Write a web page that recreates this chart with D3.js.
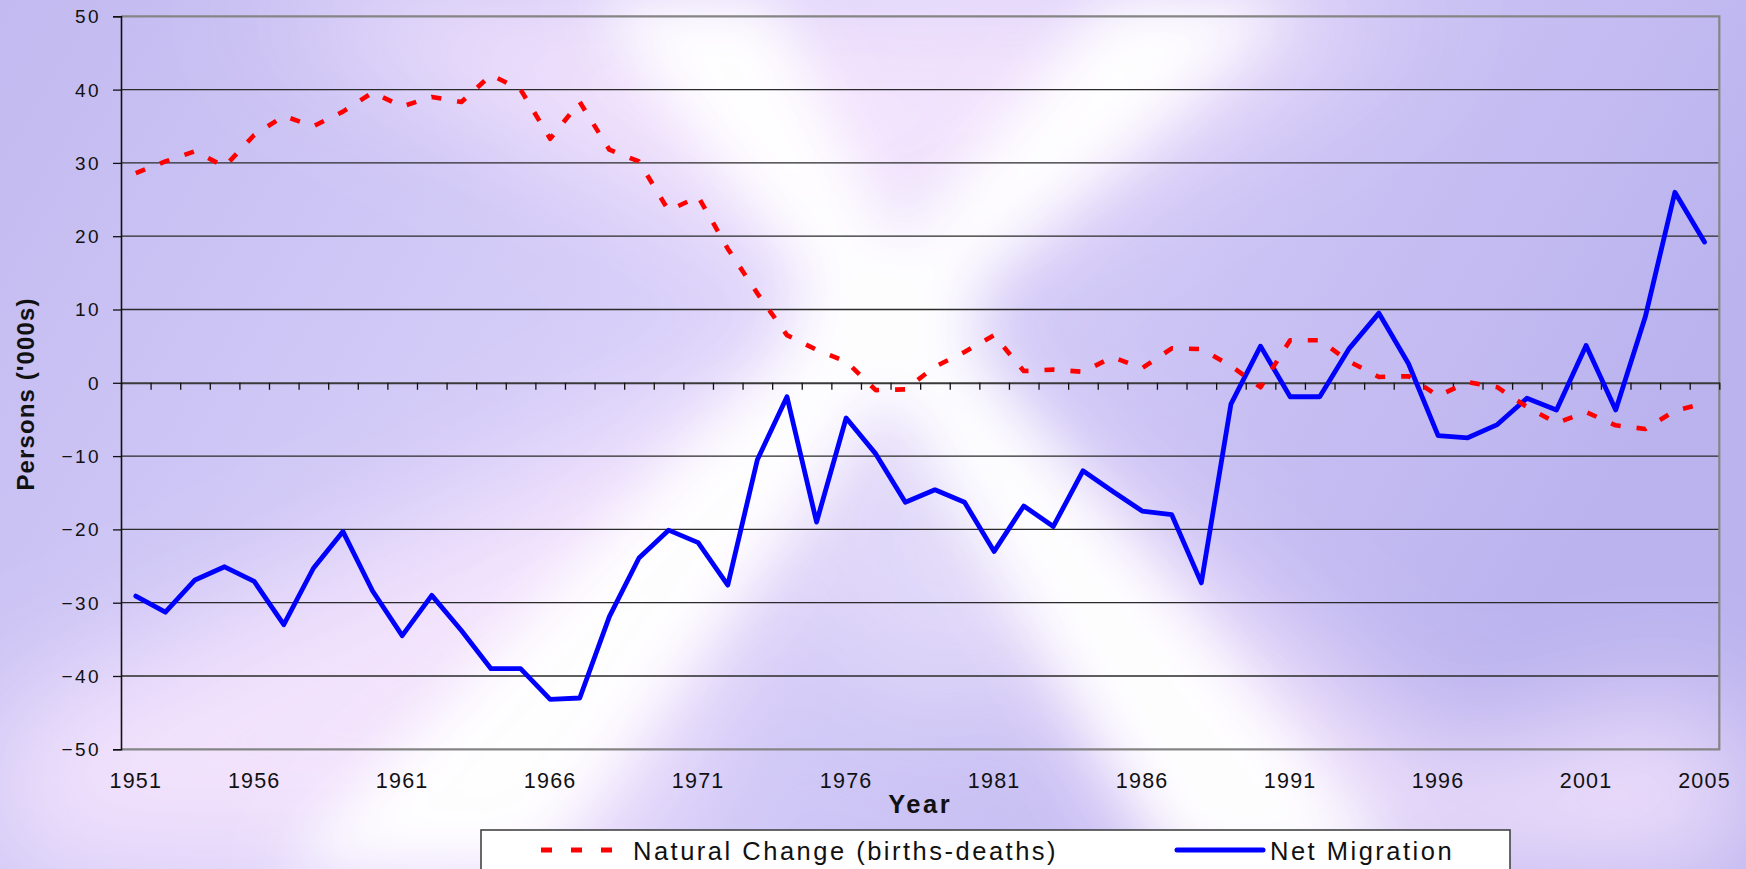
<!DOCTYPE html>
<html><head><meta charset="utf-8">
<script src="https://cdn.jsdelivr.net/npm/d3@7"></script>
<style>html,body{margin:0;padding:0;overflow:hidden;background:#c6bef2}svg{display:block}</style>
</head><body>
<svg id="chart" width="1746" height="869"></svg>
<script>
// ---------------- DATA ----------------
const categories = ["1951","1953","1954","1955","1956","1957","1958","1959","1960","1961",
  "1962","1963","1964","1965","1966","1967","1968","1969","1970","1971",
  "1972","1973","1974","1975","1976","1977","1978","1979","1980","1981",
  "1982","1983","1984","1985","1986","1987","1988","1989","1990","1991",
  "1992","1993","1994","1995","1996","1997","1998","1999","2000","2001",
  "2002","2003","2004","2005"];
const shownLabels = ["1951","1956","1961","1966","1971","1976","1981","1986","1991","1996","2001","2005"];
const naturalChange = [28.6,30.2,31.6,29.5,33.8,36.4,35.0,37.0,39.6,37.7,
  39.0,38.3,42.0,40.0,33.3,38.3,31.8,30.2,23.5,25.4,
  18.3,12.2,6.5,4.5,2.9,-1.0,-0.9,2.2,4.2,6.5,
  1.6,1.8,1.5,3.5,2.0,4.7,4.6,2.3,-0.6,5.8,
  5.8,2.9,0.8,0.9,-1.8,0.1,-0.6,-3.3,-5.5,-4.0,
  -5.8,-6.3,-3.8,-2.8];
const netMigration = [-29.1,-31.3,-26.9,-25.1,-27.1,-33.0,-25.3,-20.3,-28.4,-34.5,
  -29.0,-33.8,-39.0,-39.0,-43.2,-43.0,-31.9,-23.9,-20.1,-21.8,
  -27.6,-10.5,-1.9,-19.0,-4.8,-9.7,-16.3,-14.6,-16.3,-23.0,
  -16.8,-19.6,-12.0,-14.8,-17.5,-18.0,-27.3,-2.9,5.0,-1.9,
  -1.9,4.7,9.5,2.6,-7.2,-7.5,-5.7,-2.1,-3.7,5.1,
  -3.7,9.0,26.0,19.2];
const yTicks = [50,40,30,20,10,0,-10,-20,-30,-40,-50];
const seriesNames = ["Natural Change (births-deaths)","Net Migration"];
const axisTitles = {x:"Year", y:"Persons ('000s)"};

// ---------------- LAYOUT ----------------
const W = 1746, H = 869;
const L = 121, R = 1719.3, T = 16.3, B = 749.3;
const FONT = "'Liberation Sans', Arial, Helvetica, sans-serif";
const svg = d3.select("#chart");
const defs = svg.append("defs");

// ---------------- BACKGROUND ----------------
const bg = defs.append("linearGradient").attr("id","bgGrad")
  .attr("x1",0).attr("y1",0).attr("x2",1).attr("y2",0.3);
bg.append("stop").attr("offset",0).attr("stop-color","#c2baf0");
bg.append("stop").attr("offset",0.3).attr("stop-color","#d0c8f6");
bg.append("stop").attr("offset",0.5).attr("stop-color","#dad2fa");
bg.append("stop").attr("offset",0.75).attr("stop-color","#cac2f4");
bg.append("stop").attr("offset",1).attr("stop-color","#bbb3ee");
svg.append("rect").attr("width",W).attr("height",H).attr("fill","url(#bgGrad)");

const blur = defs.append("filter").attr("id","blur").attr("x","-30%").attr("y","-30%").attr("width","160%").attr("height","160%");
blur.append("feGaussianBlur").attr("stdDeviation",30);
const blur2 = defs.append("filter").attr("id","blur2").attr("x","-50%").attr("y","-50%").attr("width","200%").attr("height","200%");
blur2.append("feGaussianBlur").attr("stdDeviation",60);

const glow = svg.append("g");
// soft pink wash
const wash = glow.append("g").attr("filter","url(#blur2)").attr("fill","#f4e4fd").attr("opacity",0.95);
wash.append("polygon").attr("points","885,315 250,0 760,0");
wash.append("polygon").attr("points","885,315 1080,0 1420,0");
wash.append("polygon").attr("points","885,315 0,720 0,869 620,869");
wash.append("polygon").attr("points","885,315 1150,869 1560,869");
wash.append("polygon").attr("points","1380,869 1746,869 1746,760 1700,700 1450,760");
wash.append("polygon").attr("points","700,0 1100,0 885,260");
wash.append("ellipse").attr("cx",930).attr("cy",560).attr("rx",120).attr("ry",150).attr("fill","#e2daf9");
// bright rays
const rays = glow.append("g").attr("filter","url(#blur)").attr("fill","#ffffff").attr("opacity",0.97);
rays.append("polygon").attr("points","850,330 925,300 770,0 590,0");
rays.append("polygon").attr("points","845,300 925,330 1300,0 1110,0");
rays.append("polygon").attr("points","840,290 930,335 540,869 280,869");
rays.append("polygon").attr("points","850,335 925,295 1400,869 1180,869");
rays.append("ellipse").attr("cx",885).attr("cy",315).attr("rx",95).attr("ry",65);

// ---------------- SCALES ----------------
const x = d3.scaleBand().domain(categories).range([L, R]).padding(0);
const bw = x.bandwidth();
const xIdx = d3.scaleLinear().domain([0, categories.length]).range([L, R]);
const y = d3.scaleLinear().domain([-50, 50]).range([B, T]);

// gridlines
svg.append("g").selectAll("line").data(yTicks.filter(v => v !== 50 && v !== -50 && v !== 0))
  .join("line").attr("x1",L).attr("x2",R).attr("y1",d=>y(d)).attr("y2",d=>y(d))
  .attr("stroke","#2a2a2a").attr("stroke-width",1.3);

// plot border (top, right, bottom)
svg.append("path").attr("d",`M${L},${y(50)}H${R}V${y(-50)}H${L}`)
  .attr("fill","none").attr("stroke","#858585").attr("stroke-width",2.2);

// category ticks on zero line
const xTicksAxis = svg.append("g").attr("transform",`translate(0,${y(0)})`)
  .call(d3.axisBottom(xIdx).tickValues(d3.range(0, categories.length + 1)).tickFormat("").tickSizeInner(7).tickSizeOuter(0));
xTicksAxis.select(".domain").attr("stroke","#3a3a3a").attr("stroke-width",2);
xTicksAxis.selectAll(".tick line").attr("stroke","#111").attr("stroke-width",1.3);

// x labels at the bottom
const xLab = svg.append("g").attr("transform",`translate(0,${B})`)
  .call(d3.axisBottom(x).tickValues(shownLabels).tickSize(0).tickPadding(0));
xLab.select(".domain").remove();
xLab.selectAll(".tick text").attr("y",39).attr("dy",0)
  .attr("font-family",FONT).attr("font-size",21.5).attr("letter-spacing","1.2px")
  .attr("fill","#111");

// y axis
const yAx = svg.append("g").attr("transform",`translate(${L},0)`)
  .call(d3.axisLeft(y).tickValues(yTicks).tickSize(8).tickPadding(12));
yAx.select(".domain").attr("stroke","#111").attr("stroke-width",1.6);
yAx.selectAll(".tick line").attr("stroke","#111").attr("stroke-width",1.3);
yAx.selectAll(".tick text").attr("font-family",FONT).attr("font-size",19)
  .attr("letter-spacing","2.4px").attr("fill","#111").attr("dy","0.34em");

// ---------------- SERIES ----------------
const line = d3.line().x((d,i) => x(categories[i]) + bw/2).y(d => y(d));
svg.append("path").datum(netMigration).attr("d",line)
  .attr("fill","none").attr("stroke","#0000ff").attr("stroke-width",4.8)
  .attr("stroke-linejoin","round").attr("stroke-linecap","round");
svg.append("path").datum(naturalChange).attr("d",line)
  .attr("fill","none").attr("stroke","#ff0000").attr("stroke-width",4.6)
  .attr("stroke-dasharray","10,16").attr("stroke-linejoin","round");

// ---------------- TITLES ----------------
svg.append("text").attr("x",(L+R)/2).attr("y",813).attr("text-anchor","middle")
  .attr("font-family",FONT).attr("font-weight","bold").attr("font-size",25.5)
  .attr("letter-spacing","2.5px").attr("fill","#111").text(axisTitles.x);
svg.append("text").attr("transform","translate(34,394) rotate(-90)").attr("text-anchor","middle")
  .attr("font-family",FONT).attr("font-weight","bold").attr("font-size",24)
  .attr("letter-spacing","1.1px").attr("fill","#111").text(axisTitles.y);

// ---------------- LEGEND ----------------
const lg = svg.append("g");
lg.append("rect").attr("x",481).attr("y",830).attr("width",1029).attr("height",60)
  .attr("fill","#ffffff").attr("stroke","#444").attr("stroke-width",1.6);
lg.append("line").attr("x1",541).attr("x2",612).attr("y1",850).attr("y2",850)
  .attr("stroke","#ff0000").attr("stroke-width",5).attr("stroke-dasharray","11,19");
lg.append("text").attr("x",633).attr("y",860).attr("font-family",FONT).attr("font-size",25.5)
  .attr("letter-spacing","2.5px").attr("fill","#111").text(seriesNames[0]);
lg.append("line").attr("x1",1177).attr("x2",1263).attr("y1",850).attr("y2",850)
  .attr("stroke","#0000ff").attr("stroke-width",5).attr("stroke-linecap","round");
lg.append("text").attr("x",1270).attr("y",860).attr("font-family",FONT).attr("font-size",25.5)
  .attr("letter-spacing","2.5px").attr("fill","#111").text(seriesNames[1]);
</script>
</body></html>
